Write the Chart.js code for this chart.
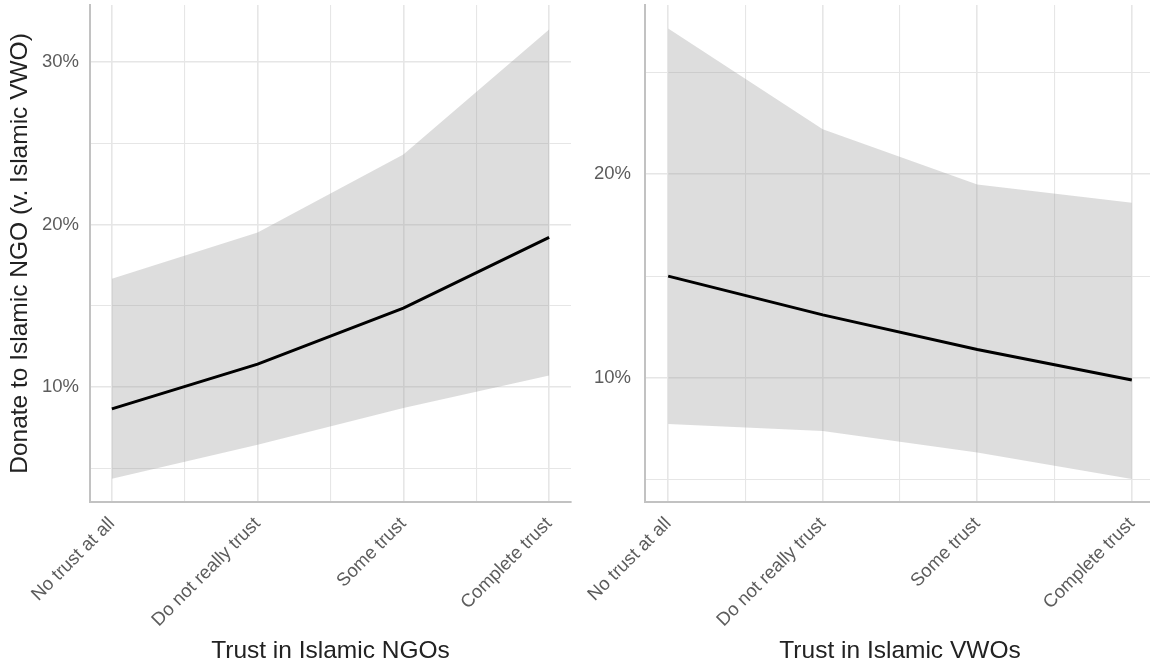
<!DOCTYPE html>
<html lang="en">
<head>
<meta charset="UTF-8">
<title>Trust in Islamic NGOs / VWOs</title>
<script src="https://cdn.jsdelivr.net/npm/chart.js"></script>
<style>
    html, body {
        margin: 0;
        padding: 0;
        background: #fff;
        overflow: hidden;
    }
    body {
        width: 1150px;
        height: 670px;
        position: relative;
    }
    .panel {
        position: absolute;
        top: 0;
        height: 670px;
    }
    #left { left: 0; width: 575px; }
    #right { left: 575px; width: 580px; }
</style>
</head>
<body>
<div class="panel" id="left"><canvas id="ngoChart" width="575" height="670"></canvas></div>
<div class="panel" id="right"><canvas id="vwoChart" width="580" height="670"></canvas></div>

<script>
var trustLevels = ['No trust at all', 'Do not really trust', 'Some trust', 'Complete trust'];
var trustPositions = [1, 2, 3, 4];

// predicted % donating to an Islamic NGO, by trust in Islamic NGOs
var ngoFit = [8.65, 11.4, 14.85, 19.2];
var ngoUpper = [16.65, 19.5, 24.3, 32.0];
var ngoLower = [4.35, 6.45, 8.7, 10.7];

// same outcome, by trust in Islamic VWOs
var vwoFit = [15.0, 13.1, 11.4, 9.9];
var vwoUpper = [27.15, 22.2, 19.5, 18.6];
var vwoLower = [7.75, 7.4, 6.35, 5.05];

var ngoYLabels = [10, 20, 30];
var vwoYLabels = [10, 20];

var tickColor = '#5c5c5c';
var titleColor = '#222';
var gridColor = '#e6e6e6';
var axisColor = '#c2c2c2';
var fontFamily = '"Liberation Sans", Arial, sans-serif';

function toPoints(values) {
    return values.map(function (v, i) {
        return { x: trustPositions[i], y: v };
    });
}

function makePanel(canvasId, fit, upper, lower, p) {
    var ctx = document.getElementById(canvasId).getContext('2d');
    return new Chart(ctx, {
        type: 'line',
        data: {
            datasets: [
                {
                    label: 'fit',
                    data: toPoints(fit),
                    borderColor: '#000',
                    borderWidth: 3,
                    pointRadius: 0,
                    fill: false,
                    tension: 0,
                    order: 0
                },
                {
                    label: 'upper',
                    data: toPoints(upper),
                    borderColor: 'transparent',
                    borderWidth: 0,
                    backgroundColor: 'rgba(150, 150, 150, 0.32)',
                    pointRadius: 0,
                    fill: '+1',
                    order: 1
                },
                {
                    label: 'lower',
                    data: toPoints(lower),
                    borderColor: 'transparent',
                    borderWidth: 0,
                    pointRadius: 0,
                    fill: false,
                    order: 2
                }
            ]
        },
        options: {
            responsive: false,
            animation: false,
            layout: { padding: { top: 5, right: p.padRight, left: 0, bottom: 0 } },
            plugins: {
                legend: { display: false },
                tooltip: { enabled: false }
            },
            scales: {
                x: {
                    type: 'linear',
                    min: 0.85,
                    max: 4.15,
                    afterFit: function (scale) {
                        scale.height = 168;
                        scale.paddingLeft = 0;
                        scale.paddingRight = 0;
                    },
                    grid: {
                        color: gridColor,
                        lineWidth: function (c) { return Number.isInteger(c.tick.value) ? 1.6 : 1.1; },
                        drawTicks: false
                    },
                    border: { display: true, color: axisColor, width: 2 },
                    ticks: {
                        stepSize: 0.5,
                        autoSkip: false,
                        includeBounds: false,
                        minRotation: 45,
                        maxRotation: 45,
                        padding: 11,
                        color: tickColor,
                        font: { family: fontFamily, size: 18.5 },
                        callback: function (v) {
                            var i = trustPositions.indexOf(v);
                            return i >= 0 ? trustLevels[i] : '';
                        }
                    },
                    title: {
                        display: true,
                        text: p.xTitle,
                        color: titleColor,
                        font: { family: fontFamily, size: 24.5 },
                        padding: { top: 0, bottom: 4 }
                    }
                },
                y: {
                    min: p.yMin,
                    max: p.yMax,
                    afterFit: function (scale) {
                        scale.width = p.yWidth;
                        // keep the panel flush with the top, like the reference
                        scale.paddingTop = 0;
                        scale.paddingBottom = 0;
                    },
                    grid: {
                        color: gridColor,
                        lineWidth: function (c) { return c.tick.value % 10 === 0 ? 1.6 : 1.1; },
                        drawTicks: false
                    },
                    border: { display: true, color: axisColor, width: 2 },
                    ticks: {
                        stepSize: 5,
                        includeBounds: false,
                        padding: p.tickPad,
                        color: tickColor,
                        font: { family: fontFamily, size: 18.5 },
                        callback: function (v) {
                            return p.yLabels.indexOf(v) >= 0 ? v + '%' : '';
                        }
                    },
                    title: {
                        display: !!p.yTitle,
                        text: p.yTitle || '',
                        color: titleColor,
                        font: { family: fontFamily, size: 24.5 },
                        padding: { top: 6, bottom: 0 }
                    }
                }
            }
        }
    });
}

makePanel('ngoChart', ngoFit, ngoUpper, ngoLower, {
    xTitle: 'Trust in Islamic NGOs',
    yTitle: 'Donate to Islamic NGO (v. Islamic VWO)',
    yMin: 2.92,
    yMax: 33.5,
    yLabels: ngoYLabels,
    yWidth: 90,
    tickPad: 11,
    padRight: 4
});

makePanel('vwoChart', vwoFit, vwoUpper, vwoLower, {
    xTitle: 'Trust in Islamic VWOs',
    yTitle: null,
    yMin: 3.92,
    yMax: 28.3,
    yLabels: vwoYLabels,
    yWidth: 70,
    tickPad: 14,
    padRight: 0
});
</script>
</body>
</html>
